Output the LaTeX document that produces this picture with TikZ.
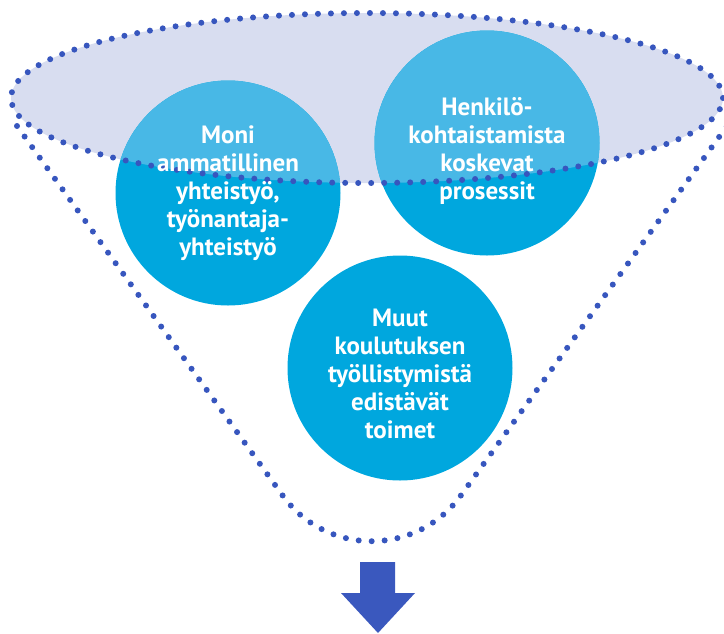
\documentclass[tikz,border=0pt]{standalone}
\usepackage{fontspec}
\setmainfont{PT Sans}
\usepackage{tikz}
\usetikzlibrary{positioning,calc}
\definecolor{bubbleblue}{RGB}{0,167,222}
\definecolor{bubblelight}{RGB}{72,184,230}
\definecolor{lidfill}{RGB}{216,221,240}
\definecolor{dotblue}{RGB}{55,86,190}
\definecolor{arrowblue}{RGB}{58,88,190}
\tikzset{
  bubble/.style={circle, fill=bubbleblue, minimum size=225pt, inner sep=0pt},
  bubbletop/.style={fill=bubblelight},
  lid/.style={fill=lidfill},
  dotline/.style={draw=dotblue, line width=6pt, line cap=round, dash pattern=on 0pt off 13pt},
  label/.style={text=white, align=center, font=\bfseries\fontsize{25}{28}\selectfont},
  downarrow/.style={fill=arrowblue},
}

\begin{document}
\begin{tikzpicture}[x=1pt, y=-1pt]
  \useasboundingbox (0,0) rectangle (724,633);

  % lid of the funnel
  \fill[lid] (367,98) ellipse [x radius=356pt, y radius=85pt];

  % the three bubbles
  \node[bubble] (moni) at (228,193) {};
  \node[bubble] (henk) at (487,143) {};
  \node[bubble] (muut) at (400,368) {};

  % lighter part under the lid
  \begin{scope}
    \clip (367,98) ellipse [x radius=356pt, y radius=85pt];
    \foreach \b in {moni,henk,muut}
      \fill[bubbletop] (\b.center) circle (112.5pt);
  \end{scope}

  % dotted outline
  \draw[dotline] (367,98) ellipse [x radius=356pt, y radius=85pt];
  \draw[dotline] (17,126) -- (283,496)
    arc[start angle=216, end angle=324, radius=109.7pt] -- (727,126);

  % texts
  \node[label] (monitext) at (moni.center) {Moni\\ammatillinen\\yhteistyö,\\työnantaja-\\yhteistyö};
  \node[label] (henktext) at ($(henk.center)+(0,8)$) {Henkilö-\\kohtaistamista\\koskevat\\prosessit};
  \node[label] (muuttext) at ($(muut.center)+(0,6)$) {Muut\\koulutuksen\\työllistymistä\\edistävät\\toimet};

  % arrow
  \fill[downarrow] (360,562) -- (395,562) -- (395,593) -- (415,593) -- (378,633)
    -- (341,593) -- (360,593) -- cycle;
\end{tikzpicture}
\end{document}
